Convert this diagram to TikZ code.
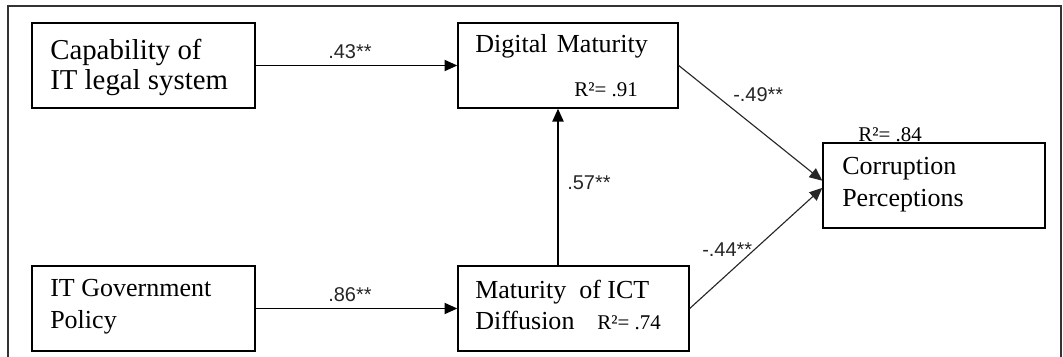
\documentclass[tikz,border=0pt]{standalone}
\usepackage{fontspec}
\setmainfont{Liberation Serif}
\setsansfont{Liberation Sans}
\usetikzlibrary{arrows.meta, positioning}

\begin{document}
\begin{tikzpicture}[
    box/.style={rectangle, draw=black, line width=1pt, minimum height=2.125cm, inner sep=0pt},
    txt/.style={anchor=base west, inner sep=0pt, font=\fontsize{18.5}{22}\selectfont},
    bigtxt/.style={anchor=base west, inner sep=0pt, font=\fontsize{20.5}{24}\selectfont},
    rsq/.style={anchor=base west, inner sep=0pt, font=\fontsize{14.9}{18}\selectfont},
    lbl/.style={anchor=base west, inner sep=0pt, font=\sffamily\fontsize{14.2}{17}\selectfont, text=black!85},
    arrow/.style={-{Triangle[length=0.32cm, width=0.28cm]}, line width=0.9pt},
    slant/.style={-{Triangle[length=0.32cm, width=0.28cm]}, line width=0.8pt, black!85},
]
\useasboundingbox (0,0) rectangle (26.575,-8.925);

% outer frame
\draw[line width=1.2pt, black!80] (0.2,-0.15) rectangle (26.525,-9.3);

% constructs
\node[box, minimum width=5.575cm] (cap) at (3.5875,-1.6375) {};
\node[box, minimum width=5.5cm] (dig) at (14.2,-1.6375) {};
\node[box, minimum width=5.55cm] (cor) at (23.35,-4.6375) {};
\node[box, minimum width=5.575cm] (gov) at (3.5875,-7.7125) {};
\node[box, minimum width=5.775cm] (ict) at (14.3375,-7.7125) {};

% box texts
\node[bigtxt] (capA) at (1.25,-1.5) {Capability of};
\node[bigtxt] (capB) at (1.25,-2.25) {IT legal system};
\node[txt] (digA) at (11.875,-1.325) {Digital\kern2pt\ Maturity};
\node[rsq] (digR) at (14.35,-2.425) {R²= .91};
\node[txt] (corA) at (21.05,-4.375) {Corruption};
\node[txt] (corB) at (21.05,-5.175) {Perceptions};
\node[rsq] (corR) at (21.45,-3.55) {R²= .84};
\node[txt] (govA) at (1.25,-7.425) {IT Government};
\node[txt] (govB) at (1.25,-8.2) {Policy};
\node[txt] (ictA) at (11.875,-7.45) {Maturity\ \ of ICT};
\node[txt] (ictB) at (11.875,-8.25) {Diffusion};
\node[rsq] (ictR) at (14.925,-8.25) {R²= .74};

% paths
\coordinate (up) at ([xshift=-0.25cm]dig.south);
\draw[arrow] (cap.east) -- (dig.west);
\draw[arrow] (gov.east) -- (ict.west);
\draw[arrow] (ict.north -| up) -- (up);
\draw[slant] (dig.east) -- ([yshift=0.12cm]cor.west);
\draw[slant] (ict.east) -- ([yshift=-0.06cm]cor.west);

% coefficients
\node[lbl] (l43) at (8.2,-1.475) {.43**};
\node[lbl] (l86) at (8.2,-7.55) {.86**};
\node[lbl] (l57) at (14.175,-4.75) {.57**};
\node[lbl] (l49) at (18.325,-2.55) {-.49**};
\node[lbl] (l44) at (17.55,-6.425) {-.44**};

\end{tikzpicture}
\end{document}
